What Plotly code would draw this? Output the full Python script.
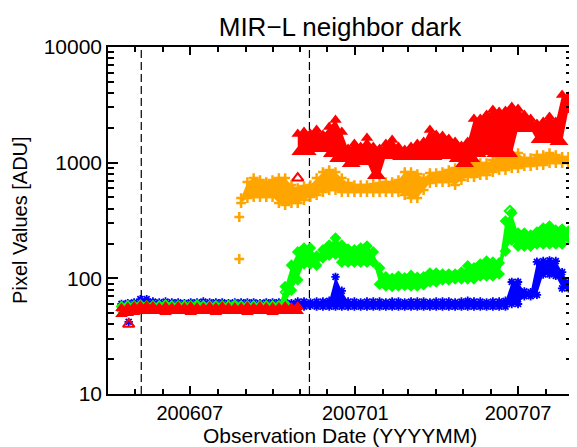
import pandas as pd
import plotly.graph_objects as go

# ---------------- data ----------------
# weekly observation grid
week_dates = pd.date_range("2006-04-16", periods=73, freq="7D")

blue_hi = [60, 61, 62, 66, 66, 63, 62, 63, 62, 62, 61, 62, 62, 63, 62, 62, 62, 61, 62, 62,
           62, 62, 61, 62, 62, 62, 62, 61, 63, 63, 62, 63, 63, 64, 103, 78, 63, 63, 62, 63,
           63, 63, 62, 63, 63, 62, 63, 63, 63, 62, 63, 63, 63, 62, 63, 64, 63, 63, 62, 63,
           63, 64, 93, 93, 77, 76, 139, 141, 143, 141, 113, 92, 90]
blue_lo = [56, 57, 57, 58, 58, 58, 57, 58, 57, 58, 57, 57, 58, 57, 57, 58, 57, 57, 58, 57,
           57, 58, 57, 57, 58, 57, 57, 58, 57, 57, 58, 57, 57, 57, 57, 57, 57, 57, 57, 57,
           57, 57, 57, 57, 57, 57, 57, 57, 57, 57, 57, 57, 57, 57, 57, 57, 57, 57, 57, 57,
           57, 57, 60, 60, 70, 70, 72, 108, 108, 105, 82, 82, 80]

green_hi = [57, 58, 58, 59, 58, 58, 58, 59, 58, 58, 58, 58, 59, 58, 58, 58, 58, 58, 59, 58,
            58, 58, 58, 58, 58, 58, 85, 130, 169, 183, 183, 156, 176, 194, 223, 194, 179, 176, 183, 190,
            169, 123, 103, 100, 104, 101, 106, 102, 103, 111, 111, 109, 109, 109, 113, 128, 123, 133, 141, 138,
            136, 313, 367, 246, 246, 237, 251, 272, 283, 261, 267, 256, 261]
green_lo = [53, 56, 56, 56, 55, 56, 56, 56, 56, 55, 56, 56, 56, 56, 56, 55, 56, 56, 56, 56,
            56, 56, 55, 56, 56, 56, 60, 79, 97, 133, 133, 130, 150, 159, 162, 138, 138, 138, 138, 138,
            138, 89, 86, 85, 86, 87, 86, 86, 88, 93, 93, 97, 97, 99, 99, 99, 99, 105, 105, 105,
            109, 172, 214, 190, 190, 190, 198, 198, 198, 198, 198, 223, 232]

orange_start = 19
orange_hi = [494, 680, 736, 707, 680, 707, 736, 736, 640, 603, 628, 640, 736, 829, 863, 829, 736, 666,
             640, 640, 640, 653, 666, 680, 680, 707, 829, 829, 797, 736, 813, 813, 829, 863, 898, 898,
             973, 992, 992, 992, 1053, 1096, 1096, 1211, 1211, 1096, 1096, 1164, 1164, 1211, 1164, 1120,
             1120, 1096]
orange_lo = [448, 494, 504, 504, 504, 504, 448, 430, 448, 448, 475, 504, 525, 557, 580, 580, 557, 557,
             557, 557, 557, 557, 557, 557, 557, 557, 525, 494, 494, 580, 666, 680, 680, 680, 640, 707,
             751, 751, 781, 781, 829, 863, 863, 898, 898, 934, 934, 953, 953, 992, 992, 992, 992, 1012]

red_early_hi = [55, 56, 57, 58, 58, 57, 56, 57, 56, 57, 56, 57, 56, 56, 57, 56, 57, 56, 56, 56,
                57, 56, 57, 56, 56, 56, 57, 56, 57]
red_early_lo = [49, 50, 51, 52, 52, 52, 52, 51, 52, 52, 52, 51, 52, 52, 52, 51, 52, 52, 52, 52,
                51, 52, 52, 52, 51, 52, 52, 52, 52]

red_late_start = 28
red_late_hi = [1767, 1839, 1767, 1913, 1732, 2031, 2334, 1839, 1310, 1448, 1364, 1632, 1364, 1310,
               1448, 1568, 1364, 1285, 1364, 1448, 1507, 1913, 1732, 1698, 1600, 1507, 1391, 1507,
               2382, 2382, 2579, 2849, 2737, 2793, 3024, 2906, 2579, 2382, 2156, 2243, 2479, 2243,
               3840, 3690, 3690]
red_late_lo = [1230, 1230, 1230, 1305, 1305, 1182, 1071, 1071, 969, 969, 1008, 1008, 763, 763,
               1136, 1136, 1114, 1114, 1114, 1114, 1114, 1114, 1114, 1136, 1136, 1071, 969, 969,
               1071, 1182, 1230, 1182, 1182, 1182, 1182, 1944, 1944, 1944, 1562, 1562, 1562, 1501,
               1501, 2838, 2838]

# isolated points (drawn as open symbols)
red_out_dates = ["2006-04-24", "2006-10-29"]
red_out_vals = [40, 736]
green_out_dates = ["2006-10-16", "2007-06-22"]
green_out_vals = [76, 382]
orange_out_dates = ["2006-08-25", "2006-08-25"]
orange_out_vals = [339, 147]
blue_out_dates = ["2006-04-24"]
blue_out_vals = [42]

event_dates = ["2006-05-08", "2006-11-11"]

y_tick_vals = [10, 100, 1000, 10000]
y_tick_text = ["10", "100", "1000", "10000"]

title_text = "MIR\u2212L neighbor dark"
x_title = "Observation Date (YYYYMM)"
y_title = "Pixel Values [ADU]"

BLUE = "#0000FF"
GREEN = "#00FF00"
ORANGE = "#FFA500"
RED = "#FF0000"

# page body has an 8px margin: figure is 8px smaller so it ends at the window edge
W, H = 569, 439
L, T, R, B = 100, 39, 3, 53
PH = H - T - B

# ---------------- figure ----------------
fig = go.Figure()


def marker_style(color, symbol, size, lw):
    if symbol.endswith("-open"):
        return dict(symbol=symbol, size=size, color=color, line=dict(width=lw, color=color))
    return dict(symbol=symbol, size=size, color=color, line=dict(width=0))


def add_band(dates, lo, hi, color, symbol, size, lw=0):
    m = marker_style(color, symbol, size, lw)
    fig.add_trace(go.Scatter(x=dates, y=lo, mode="lines+markers", marker=m,
                             line=dict(width=0, color=color),
                             hoverinfo="skip", showlegend=False))
    fig.add_trace(go.Scatter(x=dates, y=hi, mode="lines+markers", marker=m,
                             line=dict(width=0, color=color),
                             fill="tonexty", fillcolor=color,
                             hoverinfo="skip", showlegend=False))


d = list(week_dates)
add_band(d, blue_lo, blue_hi, BLUE, "asterisk-open", 7, 1.8)
add_band(d, green_lo, green_hi, GREEN, "diamond", 9)
add_band(d[orange_start:orange_start + len(orange_hi)], orange_lo, orange_hi,
         ORANGE, "cross-thin-open", 7, 2.5)
add_band(d[:len(red_early_hi)], red_early_lo, red_early_hi, RED, "triangle-up", 11)
add_band(d[red_late_start:red_late_start + len(red_late_hi)], red_late_lo, red_late_hi,
         RED, "triangle-up", 11)

fig.add_trace(go.Scatter(x=blue_out_dates, y=blue_out_vals, mode="markers",
                         marker=marker_style(BLUE, "asterisk-open", 7, 1.8), showlegend=False))
fig.add_trace(go.Scatter(x=orange_out_dates, y=orange_out_vals, mode="markers",
                         marker=marker_style(ORANGE, "cross-thin-open", 7, 2.5), showlegend=False))
fig.add_trace(go.Scatter(x=green_out_dates, y=green_out_vals, mode="markers",
                         marker=marker_style(GREEN, "diamond-open", 8, 2), showlegend=False))
fig.add_trace(go.Scatter(x=red_out_dates, y=red_out_vals, mode="markers",
                         marker=marker_style(RED, "triangle-up-open", 10, 2), showlegend=False))

for ed in event_dates:
    fig.add_shape(type="line", xref="x", yref="paper", x0=ed, x1=ed, y0=0, y1=1,
                  line=dict(color="black", width=1.2, dash="8px,4px"), layer="below")

minor_y = [m * 10 ** e for e in (1, 2, 3) for m in range(2, 10)]

fig.update_layout(
    width=W, height=H,
    margin=dict(l=L, r=R, t=T, b=B),
    paper_bgcolor="white", plot_bgcolor="white",
    showlegend=False,
    font=dict(family="Liberation Sans, Arial, sans-serif", color="black", size=20),
    title=dict(text=title_text, x=0.5, xref="paper", xanchor="center",
               y=(H - 19) / H, yref="container", yanchor="middle",
               font=dict(size=26, color="black")),
)

fig.update_xaxes(
    type="date", range=["2006-04-01", "2007-08-30"],
    tick0="2006-07-01", dtick="M6", tickformat="%Y%m",
    ticks="inside", ticklen=8, tickwidth=1.5, tickcolor="black",
    showline=True, linecolor="black", linewidth=1.5, mirror="ticks",
    showgrid=False, zeroline=False, tickfont=dict(size=20),
    minor=dict(dtick="M1", tick0="2006-04-01", ticks="inside", ticklen=5,
               tickwidth=1.5, tickcolor="black", showgrid=False),
)
fig.update_yaxes(
    type="log", range=[1, 4],
    tickmode="array", tickvals=y_tick_vals, ticktext=y_tick_text,
    ticks="inside", ticklen=10, tickwidth=1.5, tickcolor="black",
    showline=True, linecolor="black", linewidth=1.5, mirror="ticks",
    showgrid=False, zeroline=False, tickfont=dict(size=21),
    minor=dict(tickmode="array", tickvals=minor_y, ticks="inside", ticklen=6,
               tickwidth=1.5, tickcolor="black", showgrid=False),
)

fig.add_annotation(text=x_title, xref="paper", yref="paper", x=0.5, y=-42 / PH,
                   xanchor="center", yanchor="middle", showarrow=False, font=dict(size=21))
fig.add_annotation(text=y_title, xref="paper", yref="paper", x=(11 - L) / (W - L - R), y=0.5,
                   xanchor="center", yanchor="middle", textangle=-90, showarrow=False,
                   font=dict(size=20))

fig.write_html("out.html")
